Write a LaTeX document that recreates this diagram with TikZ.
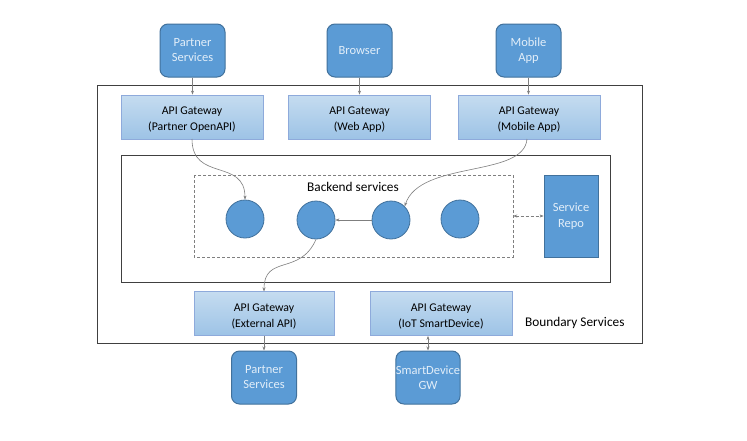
\documentclass[tikz,border=0pt]{standalone}
\usepackage{fontspec}
\setmainfont{Carlito}
\usetikzlibrary{arrows.meta}
\definecolor{cfill}{HTML}{5B9BD5}
\definecolor{cborder}{HTML}{41719C}
\definecolor{ctext}{HTML}{E2EEF9}
\definecolor{gtop}{HTML}{C5DCF0}
\definecolor{gbot}{HTML}{9DC3E6}
\definecolor{gborder}{HTML}{8EAADB}
\definecolor{lineg}{HTML}{7F7F7F}
\tikzset{
  client/.style={draw=cborder, line width=1pt, fill=cfill, rounded corners=8pt, text=ctext,
    minimum width=65pt, minimum height=53pt, align=center, font=\fontsize{12.5}{15}\selectfont, inner sep=0pt},
  gateway/.style={draw=gborder, line width=0.8pt, top color=gtop, bottom color=gbot, text=black,
    minimum width=142pt, minimum height=44pt, inner sep=0pt},
  gwtext/.style={align=center, font=\fontsize{11.8}{16}\selectfont, text=black, inner sep=0pt, yshift=-3pt},
  svc/.style={circle, draw=cborder, line width=0.8pt, fill=cfill, minimum size=38pt, inner sep=0pt},
  conn/.style={draw=lineg, line width=0.6pt, -{Stealth[length=4pt,width=3pt]}},
  dconn/.style={draw=lineg, line width=0.6pt, {Stealth[length=4pt,width=3pt]}-{Stealth[length=4pt,width=3pt]}},
  frame/.style={draw=black!75, line width=0.8pt},
  lbl/.style={font=\fontsize{13.3}{15}\selectfont, text=black}
}
\begin{document}
\begin{tikzpicture}[x=1pt,y=-1pt]
\useasboundingbox (0,0) rectangle (747,440);
\fill[white] (0,0) rectangle (747,440);
% frames
\draw[frame] (97,85) rectangle (642,343);
\draw[frame] (121,155) rectangle (610,282);
\draw[draw=lineg, line width=0.6pt, dash pattern=on 3pt off 2pt] (194,175) rectangle (513,257);
\node (dash) at (353.5,216) [minimum width=319pt, minimum height=82pt, inner sep=0pt] {};
% clients
\node[client] (ps1) at (192.5,50.5) {Partner\\Services};
\node[client] (br) at (359.5,50.5) {Browser};
\node[client] (ma) at (528.5,50.5) {Mobile\\App};
% gateways
\node[gateway, label={[gwtext]center:{API Gateway\\(Partner OpenAPI)}}] (g1) at (192,117) {};
\node[gateway, label={[gwtext]center:{API Gateway\\(Web App)}}] (g2) at (359.5,117) {};
\node[gateway, label={[gwtext]center:{API Gateway\\(Mobile App)}}] (g3) at (529,117) {};
\node[gateway, minimum width=140pt, label={[gwtext]center:{API Gateway\\(External API)}}] (g4) at (264,313.5) {};
\node[gateway, label={[gwtext]center:{API Gateway\\(IoT SmartDevice)}}] (g5) at (441,313.5) {};
% bottom clients
\node[client] (ps2) at (264,377.5) {Partner\\Services};
\node[client, minimum width=62pt] (sd) at (428,377.5) {SmartDevice\\GW};
% backend
\node[lbl] (bl) at (353,187) {Backend services};
\node[svc] (s1) at (245,219) {};
\node[svc] (s2) at (316,220) {};
\node[svc] (s3) at (391,220) {};
\node[svc] (s4) at (460,219) {};
\node[draw=cborder, line width=0.8pt, fill=cfill, text=ctext, minimum width=54pt, minimum height=82pt,
  align=center, font=\fontsize{12.5}{16}\selectfont, inner sep=0pt] (repo) at (571,216) {Service\\Repo};
\node[lbl, anchor=east] (bs) at (628,323) {Boundary Services};
% connectors
\draw[conn] (ps1) -- (ps1|-g1.north);
\draw[conn] (br) -- (br|-g2.north);
\draw[conn] (ma) -- (ma|-g3.north);
\draw[conn] (s3) -- (s2);
\coordinate (a1) at (192,139);
\draw[conn] (a1) .. controls (192,182) and (245,158) .. (s1.north);
\coordinate (a3) at (527,139);
\draw[conn] (a3) .. controls (524,178) and (420,160) .. (s3.north east);
\draw[conn] (s2.south) .. controls (300,276) and (264,254) .. (264,291.5);
\draw[conn] (g4) -- (ps2);
\draw[dconn] (g5.south-|sd) -- (sd.north);
\draw[dconn, dash pattern=on 3pt off 2pt] (dash.east) -- (repo.west);
\end{tikzpicture}
\end{document}
